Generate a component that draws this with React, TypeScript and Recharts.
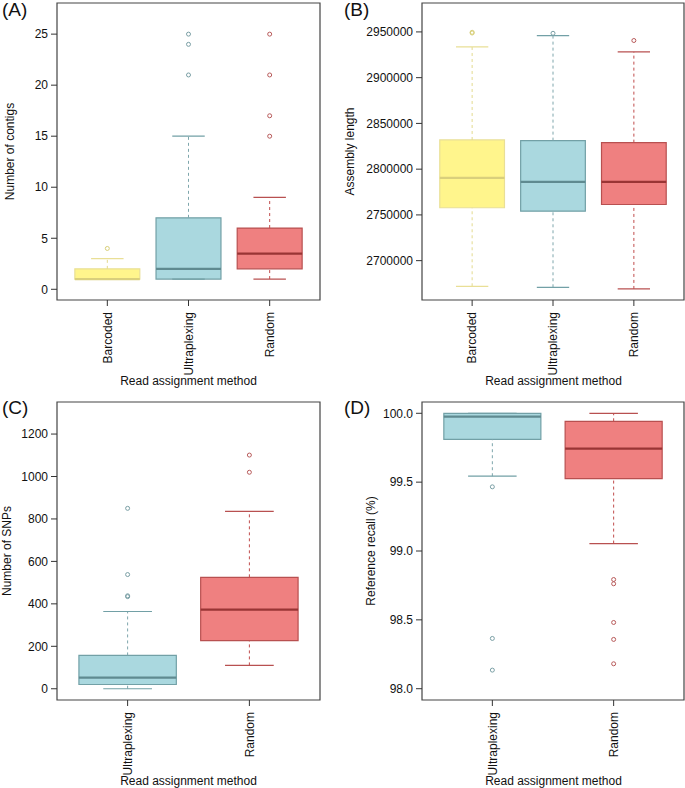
import React from 'react';
import { ComposedChart, XAxis, YAxis, ReferenceArea, ReferenceLine, Scatter } from 'recharts';

const FONT = '"Liberation Sans", Arial, Helvetica, sans-serif';

// Panel A: number of contigs
const contigCategories = ['Barcoded', 'Ultraplexing', 'Random'];
const contigMin = [1, 1, 1];
const contigQ1 = [1, 1, 2];
const contigMedian = [1, 2, 3.5];
const contigQ3 = [2, 7, 6];
const contigMax = [3, 15, 9];
const contigOutliers = [[4], [21, 24, 25], [15, 17, 21, 25]];
const contigTicks = [0, 5, 10, 15, 20, 25];

// Panel B: assembly length
const lengthCategories = ['Barcoded', 'Ultraplexing', 'Random'];
const lengthMin = [2672000, 2670900, 2669100];
const lengthQ1 = [2757800, 2754100, 2761400];
const lengthMedian = [2790500, 2786100, 2786100];
const lengthQ3 = [2831900, 2831200, 2829000];
const lengthMax = [2933600, 2946000, 2928200];
const lengthOutliers = [[2948800, 2949600], [2948500], [2940600]];
const lengthTicks = [2700000, 2750000, 2800000, 2850000, 2900000, 2950000];

// Panel C: number of SNPs
const snpCategories = ['Ultraplexing', 'Random'];
const snpMin = [0, 110];
const snpQ1 = [20, 227];
const snpMedian = [52, 373];
const snpQ3 = [157, 525];
const snpMax = [364, 836];
const snpOutliers = [[434, 438, 538, 850], [1020, 1101]];
const snpTicks = [0, 200, 400, 600, 800, 1000, 1200];

// Panel D: reference recall (%)
const recallCategories = ['Ultraplexing', 'Random'];
const recallMin = [99.543, 99.054];
const recallQ1 = [99.811, 99.526];
const recallMedian = [99.976, 99.744];
const recallQ3 = [100.0, 99.942];
const recallMax = [100.0, 100.0];
const recallOutliers = [[99.466, 98.365, 98.135], [98.793, 98.762, 98.481, 98.358, 98.181]];
const recallTicks = [98.0, 98.5, 99.0, 99.5, 100.0];

const groupStyle: Record<string, { fill: string; border: string; median: string; whisker: string; point: string }> = {
  Barcoded: { fill: '#fff58c', border: '#e9df96', median: '#d9cf7c', whisker: '#e3da8e', point: '#d8cf78' },
  Ultraplexing: { fill: '#aad8df', border: '#72a0a6', median: '#5f8a90', whisker: '#7ea6ac', point: '#7a9fa5' },
  Random: { fill: '#ef8080', border: '#b85050', median: '#993434', whisker: '#c04c4c', point: '#b85a5a' },
};

type PanelProps = {
  categories: string[];
  mins: number[];
  q1s: number[];
  medians: number[];
  q3s: number[];
  maxs: number[];
  outliers: number[][];
  yDomain: [number, number];
  yTicks: number[];
  yFormat?: (v: number) => string;
  width: number;
  height: number;
  yAxisWidth: number;
  marginRight: number;
};

const XTick = (props: any) => {
  const { x, y, payload, categories } = props;
  const label = categories[Math.round(payload.value) - 1] ?? '';
  return (
    <text
      x={x}
      y={y}
      transform={`rotate(-90 ${x} ${y})`}
      textAnchor="end"
      dy="0.35em"
      fontSize={12}
      fill="#111"
      fontFamily={FONT}
    >
      {label}
    </text>
  );
};

function BoxPanel(p: PanelProps) {
  const n = p.categories.length;
  const ext = 0.04 * n;
  const xDomain: [number, number] = [0.5 - ext, n + 0.5 + ext];
  const half = 0.4;
  const capHalf = 0.2;
  const elements: any[] = [];
  p.categories.forEach((cat, i) => {
    const x = i + 1;
    const s = groupStyle[cat];
    elements.push(
      <ReferenceLine key={`wl${i}`} segment={[{ x, y: p.mins[i] }, { x, y: p.q1s[i] }]} stroke={s.whisker} strokeDasharray="3 3" strokeWidth={1} />,
      <ReferenceLine key={`wu${i}`} segment={[{ x, y: p.q3s[i] }, { x, y: p.maxs[i] }]} stroke={s.whisker} strokeDasharray="3 3" strokeWidth={1} />,
      <ReferenceLine key={`cl${i}`} segment={[{ x: x - capHalf, y: p.mins[i] }, { x: x + capHalf, y: p.mins[i] }]} stroke={s.border} strokeWidth={1.2} />,
      <ReferenceLine key={`cu${i}`} segment={[{ x: x - capHalf, y: p.maxs[i] }, { x: x + capHalf, y: p.maxs[i] }]} stroke={s.border} strokeWidth={1.2} />,
      <ReferenceArea key={`b${i}`} x1={x - half} x2={x + half} y1={p.q1s[i]} y2={p.q3s[i]} fill={s.fill} fillOpacity={1} stroke={s.border} strokeWidth={1.2} />,
      <ReferenceLine key={`m${i}`} segment={[{ x: x - half, y: p.medians[i] }, { x: x + half, y: p.medians[i] }]} stroke={s.median} strokeWidth={2.2} />
    );
  });
  return (
    <ComposedChart width={p.width} height={p.height} margin={{ top: 3, right: p.marginRight, bottom: 0, left: 0 }}>
      <XAxis
        type="number"
        dataKey="x"
        domain={xDomain}
        allowDataOverflow
        ticks={p.categories.map((_, i) => i + 1)}
        interval={0}
        axisLine={false}
        tickSize={6}
        tickMargin={6}
        tickLine={{ stroke: '#333' }}
        height={86}
        tick={<XTick categories={p.categories} />}
      />
      <YAxis
        type="number"
        dataKey="y"
        domain={p.yDomain}
        allowDataOverflow
        ticks={p.yTicks}
        interval={0}
        axisLine={false}
        tickSize={6}
        tickMargin={3}
        tickLine={{ stroke: '#333' }}
        width={p.yAxisWidth}
        tickFormatter={p.yFormat ?? ((v: number) => String(v))}
        tick={{ fontSize: 12, fill: '#111', fontFamily: FONT }}
      />
      {elements}
      {p.categories.map((cat, i) => (
        <Scatter
          key={`o${i}`}
          data={p.outliers[i].map((v) => ({ x: i + 1, y: v }))}
          dataKey="y"
          isAnimationActive={false}
          shape={(sp: any) => (
            <circle cx={sp.cx} cy={sp.cy} r={2} fill="none" stroke={groupStyle[cat].point} strokeWidth={1} />
          )}
        />
      ))}
      <ReferenceArea x1={xDomain[0]} x2={xDomain[1]} y1={p.yDomain[0]} y2={p.yDomain[1]} fill="none" stroke="#444" strokeWidth={1.2} />
    </ComposedChart>
  );
}

export default function App() {
  return (
    <div style={{ position: 'fixed', left: 0, top: 0, width: 685, height: 788, background: '#fff', fontFamily: FONT, overflow: 'hidden' }}>
      <div style={{ position: 'absolute', left: 0, top: 0 }}>
        <BoxPanel
          categories={contigCategories}
          mins={contigMin}
          q1s={contigQ1}
          medians={contigMedian}
          q3s={contigQ3}
          maxs={contigMax}
          outliers={contigOutliers}
          yDomain={[-1.05, 28.05]}
          yTicks={contigTicks}
          width={342}
          height={386}
          yAxisWidth={57}
          marginRight={22}
        />
      </div>
      <div style={{ position: 'absolute', left: 342, top: 0 }}>
        <BoxPanel
          categories={lengthCategories}
          mins={lengthMin}
          q1s={lengthQ1}
          medians={lengthMedian}
          q3s={lengthQ3}
          maxs={lengthMax}
          outliers={lengthOutliers}
          yDomain={[2657000, 2981600]}
          yTicks={lengthTicks}
          width={343}
          height={386}
          yAxisWidth={80}
          marginRight={1}
        />
      </div>
      <div style={{ position: 'absolute', left: 0, top: 399 }}>
        <BoxPanel
          categories={snpCategories}
          mins={snpMin}
          q1s={snpQ1}
          medians={snpMedian}
          q3s={snpQ3}
          maxs={snpMax}
          outliers={snpOutliers}
          yDomain={[-53, 1351]}
          yTicks={snpTicks}
          width={342}
          height={387}
          yAxisWidth={57}
          marginRight={22}
        />
      </div>
      <div style={{ position: 'absolute', left: 342, top: 399 }}>
        <BoxPanel
          categories={recallCategories}
          mins={recallMin}
          q1s={recallQ1}
          medians={recallMedian}
          q3s={recallQ3}
          maxs={recallMax}
          outliers={recallOutliers}
          yDomain={[97.918, 100.082]}
          yTicks={recallTicks}
          yFormat={(v: number) => v.toFixed(1)}
          width={343}
          height={387}
          yAxisWidth={80}
          marginRight={1}
        />
      </div>
      <svg width={685} height={788} style={{ position: 'absolute', left: 0, top: 0, pointerEvents: 'none' }} fontFamily={FONT}>
        <text x={2} y={15.5} fontSize={19} fill="#111">(A)</text>
        <text x={344} y={15.5} fontSize={19} fill="#111">(B)</text>
        <text x={2} y={414} fontSize={19} fill="#111">(C)</text>
        <text x={344} y={414} fontSize={19} fill="#111">(D)</text>
        <text x={188.5} y={385} fontSize={12} fill="#111" textAnchor="middle">Read assignment method</text>
        <text x={553.5} y={385} fontSize={12} fill="#111" textAnchor="middle">Read assignment method</text>
        <text x={188.5} y={785} fontSize={12} fill="#111" textAnchor="middle">Read assignment method</text>
        <text x={553.5} y={785} fontSize={12} fill="#111" textAnchor="middle">Read assignment method</text>
        <text x={10} y={151.5} fontSize={12} fill="#111" textAnchor="middle" dy="0.35em" transform="rotate(-90 10 151.5)">Number of contigs</text>
        <text x={350} y={151.5} fontSize={12} fill="#111" textAnchor="middle" dy="0.35em" transform="rotate(-90 350 151.5)">Assembly length</text>
        <text x={7} y={551} fontSize={12} fill="#111" textAnchor="middle" dy="0.35em" transform="rotate(-90 7 551)">Number of SNPs</text>
        <text x={370.5} y={551} fontSize={12} fill="#111" textAnchor="middle" dy="0.35em" transform="rotate(-90 370.5 551)">Reference recall (%)</text>
      </svg>
    </div>
  );
}
